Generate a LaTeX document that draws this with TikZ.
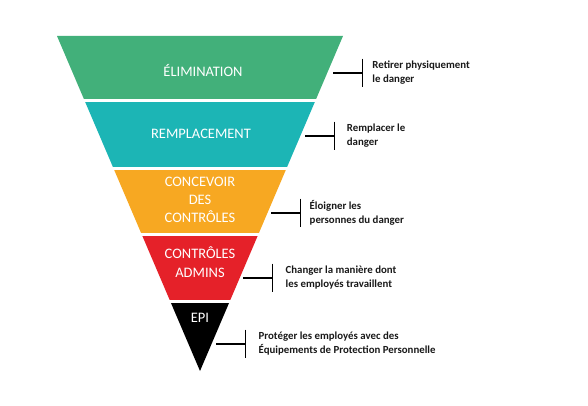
\documentclass[tikz,border=0pt]{standalone}
\usepackage{fontspec}
\setmainfont{Carlito}
\usepackage{xcolor}
\usetikzlibrary{positioning,calc}

\definecolor{elimgreen}{RGB}{66,176,122}
\definecolor{rempteal}{RGB}{28,181,181}
\definecolor{concorange}{RGB}{247,168,34}
\definecolor{adminred}{RGB}{229,33,41}
\definecolor{notegray}{RGB}{25,25,25}

\begin{document}
\begin{tikzpicture}[
  level/.style={text=white, font=\fontsize{10.3}{13}\selectfont, align=center},
  note/.style={text=notegray, font=\bfseries\fontsize{7.7}{10}\selectfont, align=left, inner sep=0pt},
  tick/.style={line width=1pt, black}
]
\useasboundingbox (0,0) rectangle (14.7,10.125);

% Inverted triangle, cut into bands
\begin{scope}
  \clip (1.425,9.225) -- (8.575,9.225) -- (5,0.85) -- cycle;
  \fill[elimgreen] (0,7.65) rectangle (10,9.3);
  \fill[rempteal] (0,5.95) rectangle (10,7.5625);
  \fill[concorange] (0,4.3) rectangle (10,5.875);
  \fill[adminred] (0,2.625) rectangle (10,4.2375);
  \fill[black] (0,0.5) rectangle (10,2.55);
\end{scope}

% Band labels
\node[level] (elim) at (5.075,8.35) {ÉLIMINATION};
\node[level] (rempl) at (5.025,6.775) {REMPLACEMENT};
\node[level] (conc) at (5.0,5.125) {CONCEVOIR\\DES\\CONTRÔLES};
\node[level] (admins) at (5.0,3.575) {CONTRÔLES\\ADMINS};
\node[level] (epi) at (5.0,2.175) {EPI};

% Brackets
\coordinate (e1) at (8.325,8.3);
\coordinate (e2) at (7.625,6.725);
\coordinate (e3) at (6.775,4.8);
\coordinate (e4) at (6.075,3.175);
\coordinate (e5) at (5.4,1.525);
\foreach \i in {1,...,5} {
  \coordinate[right=0.74cm of e\i] (b\i);
  \draw[tick] (e\i) -- (b\i);
  \draw[tick] ([yshift=3.6mm]b\i) -- ([yshift=-3.6mm]b\i);
}

% Notes
\node[note, right=0.24cm of b1] (n1) {Retirer physiquement\\le danger};
\node[note, right=0.3cm of b2] (n2) {Remplacer le\\danger};
\node[note, right=0.22cm of b3] (n3) {Éloigner les\\personnes du danger};
\node[note, right=0.32cm of b4] (n4) {Changer la manière dont\\les employés travaillent};
\node[note, right=0.32cm of b5] (n5) {Protéger les employés avec des\\Équipements de Protection Personnelle};

\end{tikzpicture}
\end{document}
